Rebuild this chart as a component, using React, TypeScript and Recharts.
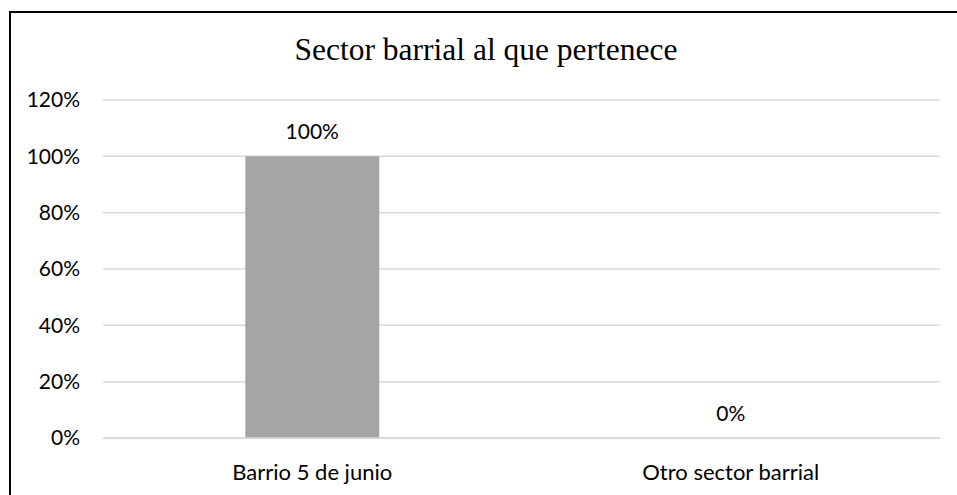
import React from 'react';
import { ComposedChart, Bar, Line, XAxis, YAxis, CartesianGrid, LabelList } from 'recharts';

const categories = ['Barrio 5 de junio', 'Otro sector barrial'];
const shares = [1.0, 0.0];
const yTicks = [0, 0.2, 0.4, 0.6, 0.8, 1.0, 1.2];
const chartTitle = 'Sector barrial al que pertenece';

const data = categories.map((name, i) => ({ name, value: shares[i] }));

const pct = (v: number) => `${Math.round(v * 100)}%`;

const labelFont = { fontFamily: 'Lato, "Open Sans", sans-serif', fontSize: 21, fill: '#000' };
const catFont = { ...labelFont, fontSize: 22 };

export default function App() {
  return (
    <div style={{ position: 'fixed', left: 0, top: 0, width: 957, height: 495, overflow: 'hidden', background: '#fff' }}>
      {/* frame edges: only the top and left ones fall inside the picture */}
      <div style={{ position: 'absolute', left: 9, top: 11, width: 948, height: 2, background: '#000' }} />
      <div style={{ position: 'absolute', left: 9, top: 11, width: 2, height: 484, background: '#000' }} />
      <div
        style={{
          position: 'absolute',
          left: 0,
          top: 34,
          width: 972,
          textAlign: 'center',
          fontFamily: '"Liberation Serif", serif',
          fontSize: 31.5,
          lineHeight: '32px',
          color: '#000',
          whiteSpace: 'nowrap',
        }}
      >
        {chartTitle}
      </div>
      <div style={{ position: 'absolute', left: 0, top: 0 }}>
        <ComposedChart width={957} height={495} data={data} margin={{ top: 100, right: 17, bottom: 0, left: 0 }} barCategoryGap="34%">
          <CartesianGrid vertical={false} stroke="#d9d9d9" strokeWidth={1.5} />
          <XAxis
            dataKey="name"
            height={57}
            tickLine={false}
            tickSize={0}
            tickMargin={26}
            axisLine={{ stroke: '#d9d9d9', strokeWidth: 1.5 }}
            tick={catFont}
          />
          <YAxis
            width={103}
            domain={[0, 1.2]}
            ticks={yTicks}
            tickFormatter={pct}
            axisLine={false}
            tickLine={false}
            tickSize={0}
            tickMargin={23}
            tick={labelFont}
          />
          <Bar dataKey="value" fill="#a5a5a5" isAnimationActive={false} />
          {/* invisible line carries the data labels so the 0% value is labelled too */}
          <Line dataKey="value" stroke="none" dot={false} activeDot={false} legendType="none" isAnimationActive={false}>
            <LabelList dataKey="value" position="top" offset={17} formatter={(v: number) => pct(v)} style={labelFont} />
          </Line>
        </ComposedChart>
      </div>
    </div>
  );
}
